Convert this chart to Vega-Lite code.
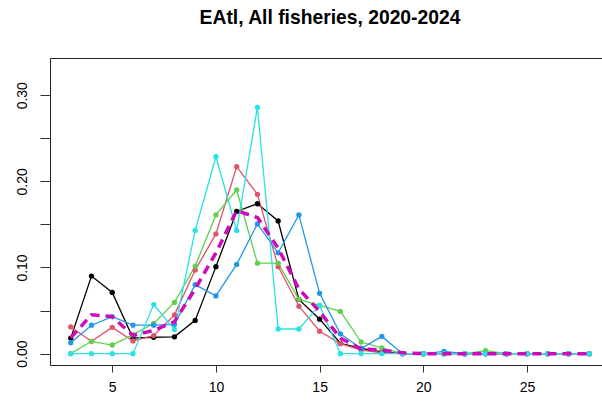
{
  "$schema": "https://vega.github.io/schema/vega-lite/v6.json",
  "width": 560,
  "height": 307,
  "autosize": {"type": "none"},
  "padding": {"left": 50, "top": 58, "right": 0, "bottom": 40},
  "background": "white",
  "title": {"text": "EAtl, All fisheries, 2020-2024", "font": "Liberation Sans", "fontSize": 19.3, "fontWeight": "bold", "color": "black", "anchor": "middle", "baseline": "bottom", "offset": 11},
  "config": {
    "view": {"stroke": "#222", "strokeWidth": 1},
    "axis": {"labelFont": "Liberation Sans", "labelColor": "black", "tickColor": "#333", "grid": false, "domain": false, "title": null}
  },
  "data": {"values": [
    {"x":3,"s":"2020","y":0.018},{"x":4,"s":"2020","y":0.090},{"x":5,"s":"2020","y":0.071},{"x":6,"s":"2020","y":0.018},{"x":7,"s":"2020","y":0.019},{"x":8,"s":"2020","y":0.0195},{"x":9,"s":"2020","y":0.0386},{"x":10,"s":"2020","y":0.101},{"x":11,"s":"2020","y":0.165},{"x":12,"s":"2020","y":0.174},{"x":13,"s":"2020","y":0.154},{"x":14,"s":"2020","y":0.063},{"x":15,"s":"2020","y":0.040},{"x":16,"s":"2020","y":0.012},{"x":17,"s":"2020","y":0.006},{"x":18,"s":"2020","y":0.002},{"x":19,"s":"2020","y":0},{"x":20,"s":"2020","y":0},{"x":21,"s":"2020","y":0},{"x":22,"s":"2020","y":0},{"x":23,"s":"2020","y":0},{"x":24,"s":"2020","y":0},{"x":25,"s":"2020","y":0},{"x":26,"s":"2020","y":0},{"x":27,"s":"2020","y":0},{"x":28,"s":"2020","y":0},
    {"x":3,"s":"2021","y":0.031},{"x":4,"s":"2021","y":0.0143},{"x":5,"s":"2021","y":0.0305},{"x":6,"s":"2021","y":0.0147},{"x":7,"s":"2021","y":0.021},{"x":8,"s":"2021","y":0.045},{"x":9,"s":"2021","y":0.097},{"x":10,"s":"2021","y":0.139},{"x":11,"s":"2021","y":0.217},{"x":12,"s":"2021","y":0.185},{"x":13,"s":"2021","y":0.101},{"x":14,"s":"2021","y":0.055},{"x":15,"s":"2021","y":0.026},{"x":16,"s":"2021","y":0.0116},{"x":17,"s":"2021","y":0.004},{"x":18,"s":"2021","y":0.001},{"x":19,"s":"2021","y":0},{"x":20,"s":"2021","y":0},{"x":21,"s":"2021","y":0},{"x":22,"s":"2021","y":0},{"x":23,"s":"2021","y":0},{"x":24,"s":"2021","y":0},{"x":25,"s":"2021","y":0},{"x":26,"s":"2021","y":0},{"x":27,"s":"2021","y":0},{"x":28,"s":"2021","y":0},
    {"x":3,"s":"2022","y":0},{"x":4,"s":"2022","y":0.0143},{"x":5,"s":"2022","y":0.010},{"x":6,"s":"2022","y":0.022},{"x":7,"s":"2022","y":0.035},{"x":8,"s":"2022","y":0.0595},{"x":9,"s":"2022","y":0.1016},{"x":10,"s":"2022","y":0.161},{"x":11,"s":"2022","y":0.190},{"x":12,"s":"2022","y":0.105},{"x":13,"s":"2022","y":0.105},{"x":14,"s":"2022","y":0.063},{"x":15,"s":"2022","y":0.056},{"x":16,"s":"2022","y":0.049},{"x":17,"s":"2022","y":0.0135},{"x":18,"s":"2022","y":0.0066},{"x":19,"s":"2022","y":0},{"x":20,"s":"2022","y":0},{"x":21,"s":"2022","y":0},{"x":22,"s":"2022","y":0},{"x":23,"s":"2022","y":0.0035},{"x":24,"s":"2022","y":0},{"x":25,"s":"2022","y":0},{"x":26,"s":"2022","y":0},{"x":27,"s":"2022","y":0},{"x":28,"s":"2022","y":0},
    {"x":3,"s":"2023","y":0.0125},{"x":4,"s":"2023","y":0.033},{"x":5,"s":"2023","y":0.043},{"x":6,"s":"2023","y":0.033},{"x":7,"s":"2023","y":0.033},{"x":8,"s":"2023","y":0.034},{"x":9,"s":"2023","y":0.080},{"x":10,"s":"2023","y":0.067},{"x":11,"s":"2023","y":0.1035},{"x":12,"s":"2023","y":0.1506},{"x":13,"s":"2023","y":0.117},{"x":14,"s":"2023","y":0.161},{"x":15,"s":"2023","y":0.070},{"x":16,"s":"2023","y":0.023},{"x":17,"s":"2023","y":0.006},{"x":18,"s":"2023","y":0.020},{"x":19,"s":"2023","y":0},{"x":20,"s":"2023","y":0},{"x":21,"s":"2023","y":0.0027},{"x":22,"s":"2023","y":0},{"x":23,"s":"2023","y":0},{"x":24,"s":"2023","y":0},{"x":25,"s":"2023","y":0},{"x":26,"s":"2023","y":0},{"x":27,"s":"2023","y":0},{"x":28,"s":"2023","y":0},
    {"x":3,"s":"2024","y":0},{"x":4,"s":"2024","y":0},{"x":5,"s":"2024","y":0},{"x":6,"s":"2024","y":0},{"x":7,"s":"2024","y":0.057},{"x":8,"s":"2024","y":0.028},{"x":9,"s":"2024","y":0.143},{"x":10,"s":"2024","y":0.2286},{"x":11,"s":"2024","y":0.143},{"x":12,"s":"2024","y":0.286},{"x":13,"s":"2024","y":0.0286},{"x":14,"s":"2024","y":0.0286},{"x":15,"s":"2024","y":0.056},{"x":16,"s":"2024","y":0},{"x":17,"s":"2024","y":0},{"x":18,"s":"2024","y":0},{"x":19,"s":"2024","y":0},{"x":20,"s":"2024","y":0},{"x":21,"s":"2024","y":0},{"x":22,"s":"2024","y":0},{"x":23,"s":"2024","y":0},{"x":24,"s":"2024","y":0},{"x":25,"s":"2024","y":0},{"x":26,"s":"2024","y":0},{"x":27,"s":"2024","y":0},{"x":28,"s":"2024","y":0},
    {"x":3,"s":"All","y":0.0185},{"x":4,"s":"All","y":0.045},{"x":5,"s":"All","y":0.043},{"x":6,"s":"All","y":0.021},{"x":7,"s":"All","y":0.027},{"x":8,"s":"All","y":0.037},{"x":9,"s":"All","y":0.075},{"x":10,"s":"All","y":0.117},{"x":11,"s":"All","y":0.166},{"x":12,"s":"All","y":0.158},{"x":13,"s":"All","y":0.1225},{"x":14,"s":"All","y":0.075},{"x":15,"s":"All","y":0.049},{"x":16,"s":"All","y":0.018},{"x":17,"s":"All","y":0.0055},{"x":18,"s":"All","y":0.004},{"x":19,"s":"All","y":0.001},{"x":20,"s":"All","y":0},{"x":21,"s":"All","y":0},{"x":22,"s":"All","y":0},{"x":23,"s":"All","y":0},{"x":24,"s":"All","y":0},{"x":25,"s":"All","y":0},{"x":26,"s":"All","y":0},{"x":27,"s":"All","y":0},{"x":28,"s":"All","y":0}
  ]},
  "encoding": {
    "x": {"field": "x", "type": "quantitative", "scale": {"domain": [2, 29], "nice": false, "zero": false},
      "axis": {"values": [5, 10, 15, 20, 25], "tickSize": 7, "labelFontSize": 14, "labelPadding": 8, "labelAngle": 0}},
    "y": {"field": "y", "type": "quantitative", "scale": {"domain": [-0.0132, 0.3432], "nice": false, "zero": false},
      "axis": {"values": [0, 0.05, 0.1, 0.15, 0.2, 0.25, 0.3], "tickSize": 10, "labelFontSize": 14, "labelAngle": -90, "labelAlign": "center", "labelBaseline": "bottom", "labelPadding": 11,
        "labelExpr": "round(datum.value * 100) % 10 == 0 ? format(datum.value, '.2f') : ''"}},
    "color": {"field": "s", "type": "nominal", "legend": null,
      "scale": {"domain": ["2020", "2021", "2022", "2023", "2024", "All"], "range": ["#000000", "#DF536B", "#61D04F", "#2297E6", "#28E2E5", "#CD0BBC"]}}
  },
  "layer": [
    {"transform": [{"filter": "datum.s != 'All'"}], "mark": {"type": "line", "strokeWidth": 1.3}, "encoding": {"detail": {"field": "s"}}},
    {"transform": [{"filter": "datum.s != 'All'"}], "mark": {"type": "circle", "size": 28, "opacity": 1}},
    {"transform": [{"filter": "datum.s == 'All'"}], "mark": {"type": "line", "strokeWidth": 3.5, "strokeDash": [9, 6]}}
  ]
}
